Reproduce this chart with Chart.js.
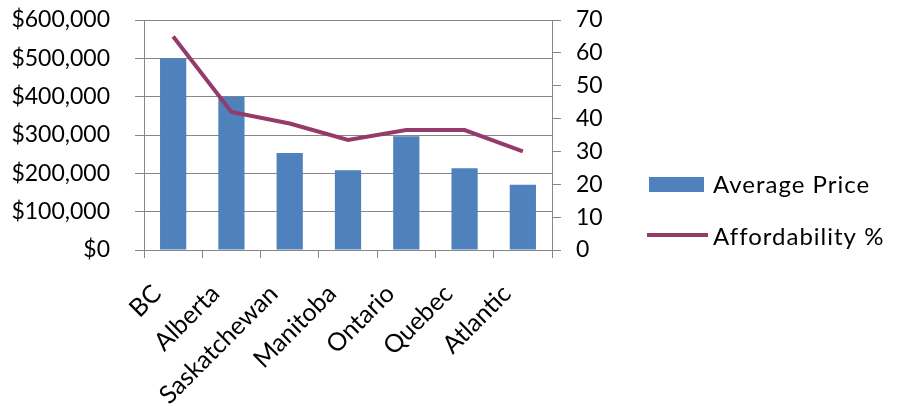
<!DOCTYPE html>
<html lang="en">
<head>
  <meta charset="UTF-8">
  <title>Average Price and Affordability by Region</title>
  <style>
    html, body { margin: 0; padding: 0; background: #fff; }
    .wrap { width: 899px; height: 406px; position: relative; }
  </style>
  <script src="https://cdn.jsdelivr.net/npm/chart.js"></script>
</head>
<body>
  <div class="wrap"><canvas id="chart" width="899" height="406"></canvas></div>
  <script>
    const regions = ['BC', 'Alberta', 'Saskatchewan', 'Manitoba', 'Ontario', 'Quebec', 'Atlantic'];
    const averagePrice = [500000, 400000, 253000, 208000, 297000, 213000, 170000];
    const affordability = [65, 42, 38.5, 33.5, 36.5, 36.5, 30];
    const priceTicks = [0, 100000, 200000, 300000, 400000, 500000, 600000];
    const pctTicks = [0, 10, 20, 30, 40, 50, 60, 70];

    const FONT = 'Lato, "Open Sans", sans-serif';
    const axisGrey = '#868686';

    // legend drawn by hand to sit where Excel puts it
    const sideLegend = {
      id: 'sideLegend',
      afterDraw(chart) {
        const ctx = chart.ctx;
        const bar = chart.data.datasets.find(d => d.type === 'bar');
        const line = chart.data.datasets.find(d => d.type === 'line');
        ctx.save();
        ctx.font = '24px ' + FONT;
        ctx.letterSpacing = '1px';
        ctx.textBaseline = 'middle';
        ctx.fillStyle = bar.backgroundColor;
        ctx.fillRect(649, 177, 55, 15);
        ctx.fillStyle = '#000';
        ctx.fillText(bar.label, 713, 185);
        ctx.strokeStyle = line.borderColor;
        ctx.lineWidth = 4;
        ctx.beginPath();
        ctx.moveTo(647, 235);
        ctx.lineTo(708, 235);
        ctx.stroke();
        ctx.fillText(line.label, 713, 237);
        ctx.restore();
      }
    };

    // fixed axis widths; drop the tick-padding that chart.js adds above the plot
    const fixWidth = w => s => {
      s.width = w;
      s.paddingTop = 0;
      s.paddingBottom = 0;
    };

    new Chart(document.getElementById('chart'), {
      data: {
        labels: regions,
        datasets: [
          {
            type: 'line',
            label: 'Affordability %',
            data: affordability,
            yAxisID: 'yPct',
            borderColor: '#953B6B',
            borderWidth: 4,
            pointRadius: 0,
            tension: 0,
            order: 0
          },
          {
            type: 'bar',
            label: 'Average Price',
            data: averagePrice,
            yAxisID: 'yPrice',
            backgroundColor: '#4F81BD',
            categoryPercentage: 1,
            barPercentage: 0.45,
            order: 1
          }
        ]
      },
      options: {
        responsive: false,
        animation: false,
        layout: { padding: { top: 20, right: 297, left: 0, bottom: 0 } },
        plugins: { legend: { display: false }, tooltip: { enabled: false } },
        scales: {
          x: {
            offset: true,
            afterFit: s => { s.height = 156; },
            grid: { offset: true, drawOnChartArea: false, color: axisGrey, tickLength: 8 },
            border: { color: axisGrey },
            ticks: {
              color: '#000',
              font: { family: FONT, size: 25 },
              minRotation: 45,
              maxRotation: 45,
              padding: 21,
              labelOffset: -16
            }
          },
          yPrice: {
            position: 'left',
            min: 0,
            max: 600000,
            afterFit: fixWidth(144),
            afterBuildTicks: s => { s.ticks = priceTicks.map(v => ({ value: v })); },
            grid: { color: axisGrey, tickLength: 9 },
            border: { color: axisGrey },
            ticks: {
              color: '#000',
              font: { family: FONT, size: 23 },
              padding: 25,
              autoSkip: false,
              callback: v => '$' + v.toLocaleString('en-US')
            }
          },
          yPct: {
            position: 'right',
            min: 0,
            max: 70,
            afterFit: fixWidth(50),
            afterBuildTicks: s => { s.ticks = pctTicks.map(v => ({ value: v })); },
            grid: { drawOnChartArea: false, color: axisGrey, tickLength: 9 },
            border: { color: axisGrey },
            ticks: { color: '#000', font: { family: FONT, size: 23 }, padding: 15, autoSkip: false }
          }
        }
      },
      plugins: [sideLegend]
    });
  </script>
</body>
</html>
